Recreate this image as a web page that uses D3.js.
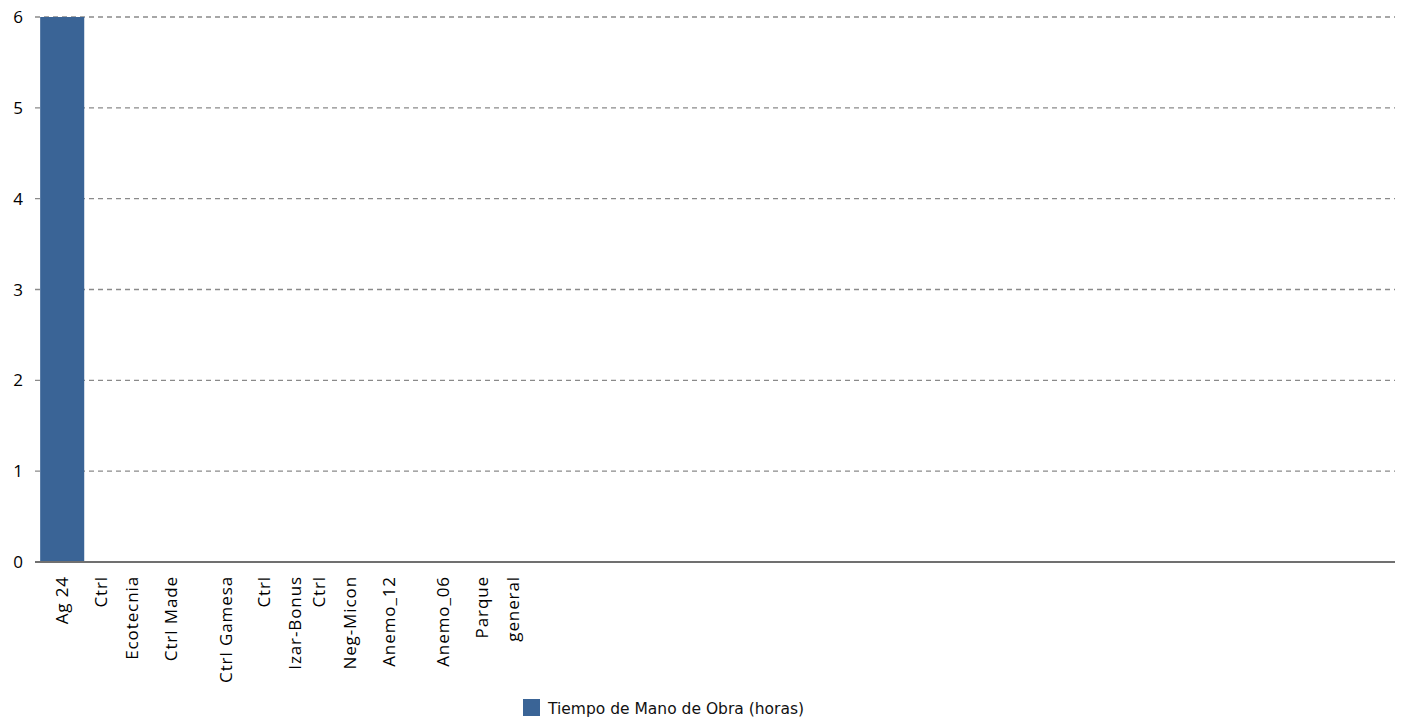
<!DOCTYPE html>
<html><head><meta charset="utf-8">
<script src="https://cdn.jsdelivr.net/npm/d3@7"></script>
<style>body{margin:0;background:#fff}svg{display:block}</style>
</head><body><svg id="c" width="1408" height="724"></svg>
<script>
const categories = ["Ag 24","Ctrl\nEcotecnia","Ctrl Made","Ctrl Gamesa","Ctrl\nIzar-Bonus","Ctrl\nNeg-Micon","Anemo_12","Anemo_06","Parque\ngeneral","","","","","","","","","","","","","","","",""];
const values = [6,0,0,0,0,0,0,0,0,null,null,null,null,null,null,null,null,null,null,null,null,null,null,null,null];
const yTicks = [0,1,2,3,4,5,6];
const seriesName = "Tiempo de Mano de Obra (horas)";

const svg = d3.select("#c");
const m = {l:35, r:13, t:17, b:162};
const W = 1408, H = 724;
const x = d3.scaleBand().domain(d3.range(categories.length)).range([m.l, W-m.r]).paddingInner(0.19).paddingOuter(0.095);
const y = d3.scaleLinear().domain([0,6]).range([H-m.b, m.t]);

// gridlines
svg.append("g").selectAll("line").data(yTicks.filter(d=>d>0)).join("line")
  .attr("x1", m.l).attr("x2", W-m.r).attr("y1", d=>y(d)).attr("y2", d=>y(d))
  .attr("stroke","#8a8a8a").attr("stroke-width",1.4).attr("stroke-dasharray","5,4");

// y tick labels
svg.append("g").selectAll("text").data(yTicks).join("text")
  .attr("x", 23).attr("y", d=>y(d)).attr("dy","0.36em").attr("text-anchor","end")
  .attr("font-family","'Open Sans', sans-serif").attr("font-size",17).attr("fill","#000")
  .text(d=>d);

// bars
svg.append("g").selectAll("rect").data(values.map((v,i)=>({v,i})).filter(d=>d.v!==null)).join("rect")
  .attr("x", d=>x(d.i)).attr("width", x.bandwidth())
  .attr("y", d=>y(d.v)).attr("height", d=>y(0)-y(d.v))
  .attr("fill","#3a6496");

// baseline
svg.append("line").attr("x1", m.l).attr("x2", W-m.r).attr("y1", y(0)).attr("y2", y(0))
  .attr("stroke","#707070").attr("stroke-width",2.2);

// x labels rotated
const lg = svg.append("g");
categories.forEach((c,i)=>{
  if(!c) return;
  const lines = c.split("\n");
  const cx = x(i) + x.bandwidth()/2;
  const sp = 31;
  lines.forEach((ln,j)=>{
    const off = (j - (lines.length-1)/2)*sp;
    lg.append("text")
      .attr("transform", `translate(${cx+off},${y(0)+14}) rotate(-90)`)
      .attr("text-anchor","end").attr("dy","0.36em")
      .attr("font-family","'Open Sans', sans-serif").attr("font-size",17)
      .attr("letter-spacing","0.9px").attr("fill","#000")
      .text(ln);
  });
});

// legend
const lgd = svg.append("g");
lgd.append("rect").attr("x",523).attr("y",699).attr("width",17).attr("height",17).attr("fill","#3a6496");
lgd.append("text").attr("x",548).attr("y",708).attr("dy","0.36em")
  .attr("font-family","'DejaVu Sans', sans-serif").attr("font-size",15.5).attr("fill","#111")
  .text(seriesName);
</script></body></html>
